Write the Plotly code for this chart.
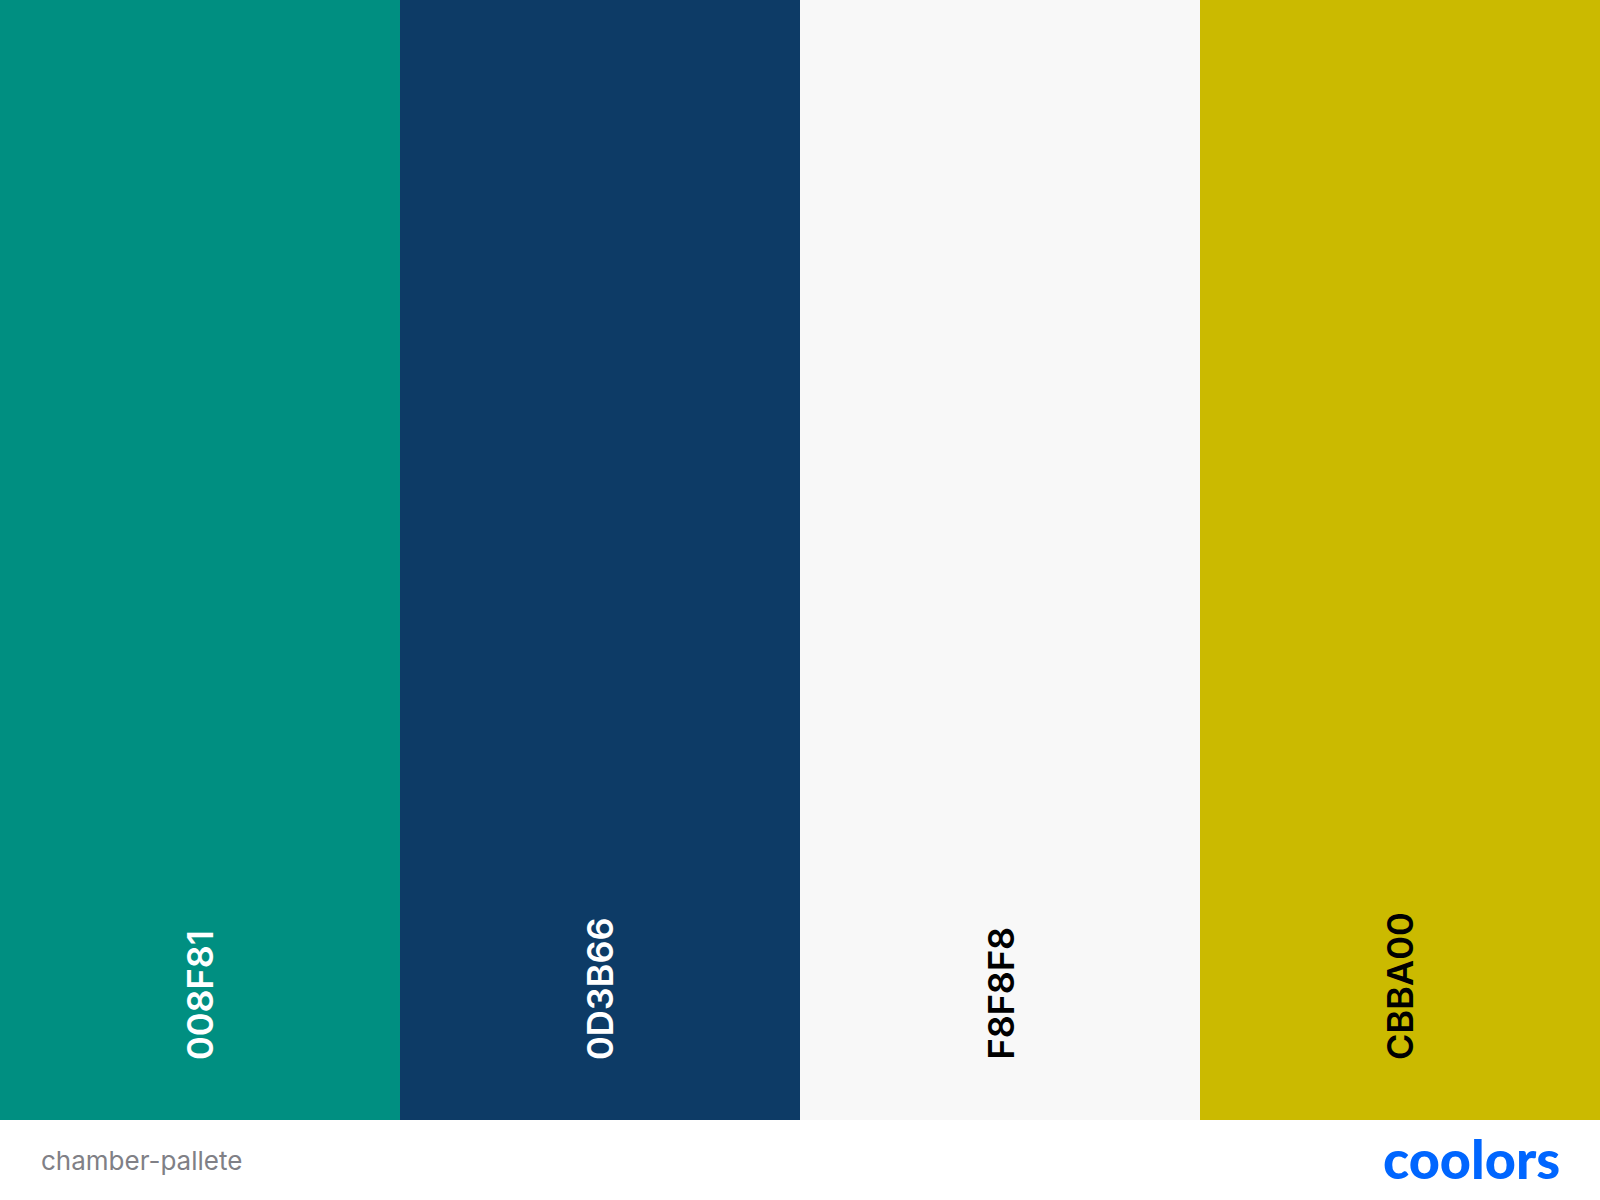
import plotly.graph_objects as go

# palette swatches
codes = ['008F81', '0D3B66', 'F8F8F8', 'CBBA00']
colors = ['#008F81', '#0D3B66', '#F8F8F8', '#CBBA00']
label_colors = ['white', 'white', 'black', 'black']
heights = [1, 1, 1, 1]
palette_name = 'chamber-pallete'
brand = 'coolors'

xs = list(range(len(codes)))

fig = go.Figure()
fig.add_trace(go.Bar(x=xs, y=heights, width=1, marker=dict(color=colors, line=dict(width=0)),
                     hoverinfo='skip', showlegend=False))

# hex codes, rotated, bottom aligned in each bar
for i, code in enumerate(codes):
    fig.add_annotation(x=xs[i], y=138 / 1200, xref='x', yref='paper', text=code, showarrow=False,
                       textangle=-90, xanchor='center', yanchor='bottom',
                       font=dict(family='Inter', size=36, color=label_colors[i], weight=600))

fig.add_annotation(x=39 / 1600, y=40 / 1200, xref='paper', yref='paper', text=palette_name,
                   showarrow=False, xanchor='left', yanchor='middle',
                   font=dict(family='Inter', size=26, color='#808086'))
fig.add_annotation(x=1562 / 1600, y=42 / 1200, xref='paper', yref='paper', text=brand,
                   showarrow=False, xanchor='right', yanchor='middle',
                   font=dict(family='Lato', size=54, color='#0066FF', weight=900))

fig.update_layout(
    width=1600, height=1200,
    margin=dict(l=0, r=0, t=0, b=0),
    paper_bgcolor='white', plot_bgcolor='white',
    bargap=0,
    xaxis=dict(range=[-0.5, 3.5], visible=False, fixedrange=True),
    yaxis=dict(range=[0, 1], visible=False, domain=[80 / 1200, 1], fixedrange=True),
)

fig.write_html("out.html", config=dict(displayModeBar=False),
               post_script="document.body.style.margin='0';")
